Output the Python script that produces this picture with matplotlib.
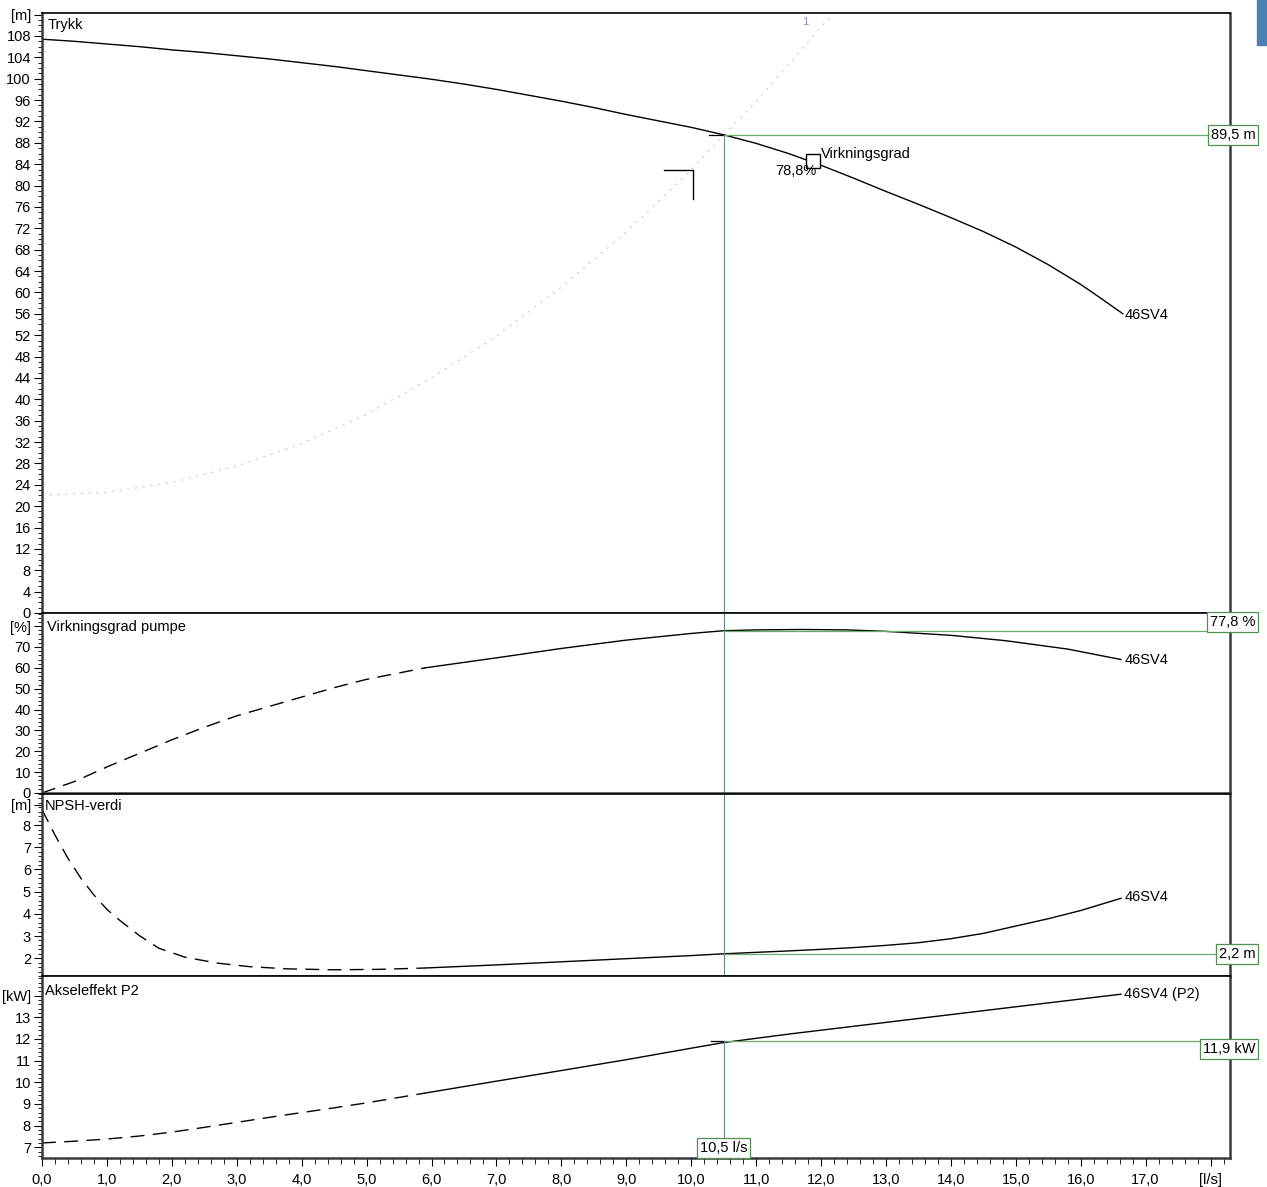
import numpy as np
import matplotlib.pyplot as plt
from matplotlib.ticker import MultipleLocator, FixedLocator
from matplotlib.patches import Rectangle
import matplotlib.transforms as mtransforms

plt.rcParams['font.family'] = ['Liberation Sans', 'DejaVu Sans']

# pumpekurve 46SV4, Q i l/s
q_head = [0, 0.5, 1, 1.5, 2, 2.5, 3, 3.5, 4, 4.5, 5, 5.5, 6, 6.5, 7, 7.5, 8, 8.5, 9, 9.5,
          10, 10.5, 11, 11.5, 12, 12.5, 13, 13.5, 14, 14.5, 15, 15.5, 16, 16.3, 16.65]
head = [107.4, 107.0, 106.5, 106.0, 105.4, 104.9, 104.3, 103.7, 103.0, 102.3, 101.5, 100.7,
        99.9, 99.0, 98.0, 96.9, 95.8, 94.6, 93.3, 92.1, 90.9, 89.5, 87.9, 86.0, 83.8, 81.4,
        78.9, 76.5, 74.0, 71.4, 68.5, 65.2, 61.5, 59.0, 56.0]

# anleggskurve (svak, stiplet)
q_sys = [0, 1, 2, 3, 4, 5, 6, 7, 8, 9, 10, 10.5, 11, 12, 12.2]
sys_head = [22.0, 22.6, 24.4, 27.5, 31.7, 37.2, 44.0, 51.8, 61.0, 71.3, 82.9, 89.5, 95.7, 109.7, 112.3]

q_eff = [0, 0.5, 1, 1.5, 2, 2.5, 3, 3.5, 4, 4.5, 5, 5.9, 7, 8, 9, 10, 10.5, 11, 11.7, 12.4,
         13, 14, 14.85, 15.8, 16.62]
eff = [0, 5.5, 12.5, 19, 25.5, 31.5, 37, 41.5, 46, 50.5, 54.5, 60, 64.8, 69.3, 73.3, 76.5,
       77.8, 78.2, 78.4, 78.2, 77.5, 75.6, 73.0, 69.0, 64.0]

q_npsh = [0, 0.2, 0.4, 0.6, 0.8, 1.0, 1.2, 1.5, 1.8, 2.2, 2.7, 3.2, 3.8, 4.5, 5.2, 5.9, 7, 8,
          9, 10, 10.5, 11.5, 12, 12.5, 13, 13.5, 14, 14.5, 15, 15.5, 16, 16.62]
npsh = [8.7, 7.55, 6.5, 5.6, 4.85, 4.2, 3.7, 3.02, 2.45, 2.05, 1.78, 1.62, 1.52, 1.48, 1.5,
        1.56, 1.7, 1.84, 1.98, 2.12, 2.2, 2.33, 2.4, 2.48, 2.58, 2.7, 2.88, 3.12, 3.45, 3.78,
        4.15, 4.7]

q_p2 = [0, 0.5, 1, 1.5, 2, 2.5, 3, 3.5, 4, 4.5, 5, 5.9, 7, 8, 9, 10, 10.5, 11.5, 12.5, 13.5,
        14.5, 15.5, 16.62]
p2 = [7.2, 7.28, 7.38, 7.52, 7.7, 7.92, 8.15, 8.38, 8.6, 8.82, 9.05, 9.5, 10.05, 10.54,
      11.04, 11.57, 11.83, 12.22, 12.58, 12.94, 13.3, 13.66, 14.06]

# driftspunkt
q_duty = 10.5
duty_head = 89.5
duty_eff = 77.8
duty_npsh = 2.2
duty_p2 = 11.9
best_eff_q, best_eff_h = 11.88, 84.6
dash_end = 5.9

x_major = list(range(0, 19))
x_labels = ['%d,0' % v for v in range(0, 18)] + ['[l/s]']

green = '#6aaa6a'
boxgreen = '#4f8f4f'
vcol = '#6b8b8b'
fs = 10.5

fig = plt.figure(figsize=(12.67, 11.87), dpi=100)

L, W = 42 / 1267, 1188 / 1267
H = 1187
ax1 = fig.add_axes([L, 1 - 613 / H, W, 600 / H])
ax2 = fig.add_axes([L, 1 - 793 / H, W, 180 / H])
ax3 = fig.add_axes([L, 1 - 976 / H, W, 182 / H])
ax4 = fig.add_axes([L, 1 - 1157.7 / H, W, 181.7 / H])
axes = [ax1, ax2, ax3, ax4]

for ax in axes:
    ax.set_xlim(0, 18.3)
    for s in ['left', 'bottom', 'right']:
        ax.spines[s].set_linewidth(1.8)
        ax.spines[s].set_color('#3a3a3a')
    ax.spines['top'].set_linewidth(1.2)
    ax.tick_params(axis='y', direction='out', length=6, width=0.8, pad=2, labelsize=fs)
    ax.tick_params(axis='y', which='minor', direction='out', length=3, width=0.6)
    ax.tick_params(axis='x', which='both', bottom=False, labelbottom=False)


def split(q, v):
    q = np.array(q)
    v = np.array(v)
    d = q <= dash_end
    s = q >= dash_end
    return (q[d], v[d]), (q[s], v[s])


# --- Trykk ---
ax1.set_ylim(0, 112.3)
ax1.yaxis.set_major_locator(FixedLocator(list(range(0, 109, 4)) + [112]))
ax1.set_yticklabels([str(v) for v in range(0, 109, 4)] + ['[m]'])
ax1.yaxis.set_minor_locator(MultipleLocator(1))
ax1.plot(q_sys, sys_head, color='#c6c9e0', lw=0.8, dashes=(2, 5))
ax1.plot(q_head, head, color='black', lw=1.0)
ax1.text(0.08, 110.0, 'Trykk', fontsize=fs, va='center')
ax1.text(11.75, 110.6, '1', fontsize=8, color='#8a8ae0', ha='center', va='center')
ax1.plot([9.58, 10.03, 10.03], [82.9, 82.9, 77.5], color='black', lw=1.0)
ax1.plot([q_duty - 0.22, q_duty], [duty_head, duty_head], color='black', lw=0.9)
ax1.plot([q_duty, 18.3], [duty_head, duty_head], color=green, lw=0.9)
ax1.plot([q_duty, q_duty], [0, duty_head], color=vcol, lw=0.8)
ax1.plot([best_eff_q], [best_eff_h], marker='s', ms=10, mfc='white', mec='black', mew=1.0)
ax1.text(best_eff_q + 0.12, best_eff_h + 1.3, 'Virkningsgrad', fontsize=fs, va='center')
ax1.text(best_eff_q + 0.05, best_eff_h - 1.8, '78,8%', fontsize=fs, ha='right', va='center')
ax1.text(16.67, 55.7, '46SV4', fontsize=fs, va='center')

# --- Virkningsgrad ---
ax2.set_ylim(0, 86.3)
ax2.yaxis.set_major_locator(FixedLocator(list(range(0, 71, 10)) + [80]))
ax2.set_yticklabels([str(v) for v in range(0, 71, 10)] + ['[%]'])
ax2.yaxis.set_minor_locator(MultipleLocator(2))
(dq, dv), (sq, sv) = split(q_eff, eff)
ax2.plot(dq, dv, color='black', lw=1.0, dashes=(10, 6))
ax2.plot(sq, sv, color='black', lw=1.0)
ax2.text(0.08, 79.5, 'Virkningsgrad pumpe', fontsize=fs, va='center')
ax2.plot([q_duty, 18.0], [duty_eff, duty_eff], color=green, lw=0.9)
ax2.plot([q_duty, q_duty], [0, 86.3], color=vcol, lw=0.8)
ax2.text(16.67, 63.6, '46SV4', fontsize=fs, va='center')

# --- NPSH ---
ax3.set_ylim(1.2, 9.4)
ax3.yaxis.set_major_locator(FixedLocator(list(range(2, 9)) + [8.92]))
ax3.set_yticklabels([str(v) for v in range(2, 9)] + ['[m]'])
ax3.yaxis.set_minor_locator(MultipleLocator(0.2))
(dq, dv), (sq, sv) = split(q_npsh, npsh)
ax3.plot(dq, dv, color='black', lw=1.0, dashes=(10, 6))
ax3.plot(sq, sv, color='black', lw=1.0)
ax3.text(0.05, 8.85, 'NPSH-verdi', fontsize=fs, va='center')
ax3.plot([q_duty, 18.3], [duty_npsh, duty_npsh], color=green, lw=0.9)
ax3.plot([q_duty, q_duty], [1.2, 9.4], color=vcol, lw=0.8)
ax3.text(16.67, 4.75, '46SV4', fontsize=fs, va='center')

# --- Akseleffekt ---
ax4.set_ylim(6.52, 14.9)
ax4.yaxis.set_major_locator(FixedLocator(list(range(7, 14)) + [14]))
ax4.set_yticklabels([str(v) for v in range(7, 14)] + ['[kW]'])
ax4.yaxis.set_minor_locator(MultipleLocator(0.2))
(dq, dv), (sq, sv) = split(q_p2, p2)
ax4.plot(dq, dv, color='black', lw=1.0, dashes=(10, 6))
ax4.plot(sq, sv, color='black', lw=1.0)
ax4.text(0.05, 14.2, 'Akseleffekt P2', fontsize=fs, va='center')
ax4.plot([q_duty - 0.2, q_duty], [duty_p2, duty_p2], color='black', lw=0.9)
ax4.plot([q_duty, 18.3], [duty_p2, duty_p2], color=green, lw=0.9)
ax4.plot([q_duty, q_duty], [6.52, duty_p2], color=vcol, lw=0.8)
ax4.text(16.67, 14.06, '46SV4 (P2)', fontsize=fs, va='center')

ax4.tick_params(axis='x', which='both', bottom=True, labelbottom=True, direction='out')
ax4.tick_params(axis='x', which='major', length=6, width=0.8, pad=5, labelsize=fs)
ax4.tick_params(axis='x', which='minor', length=4, width=0.6)
ax4.xaxis.set_major_locator(FixedLocator(x_major))
ax4.set_xticklabels(x_labels)
ax4.xaxis.set_minor_locator(MultipleLocator(0.2))

# verdibokser
box = dict(boxstyle='square,pad=0.2', fc='white', ec=boxgreen, lw=0.9)
for ax, y, txt, va in [(ax1, duty_head, '89,5 m', 'center'),
                       (ax2, duty_eff + 0.8, '77,8 %', 'bottom'),
                       (ax3, duty_npsh, '2,2 m', 'center'),
                       (ax4, duty_p2 - 0.05, '11,9 kW', 'top')]:
    tr = mtransforms.blended_transform_factory(ax.transAxes, ax.transData)
    ax.text(1.0215, y, txt, transform=tr, ha='right', va=va, fontsize=fs,
            bbox=box, clip_on=False, zorder=5)

trb = mtransforms.blended_transform_factory(ax4.transData, ax4.transAxes)
ax4.text(q_duty, 0.015, '10,5 l/s', transform=trb, ha='center', va='bottom',
         fontsize=fs, bbox=box, zorder=5)

# blå fane oppe til høyre
fig.patches.append(Rectangle((1257 / 1267, 1 - 45 / H), 10 / 1267, 45 / H,
                             transform=fig.transFigure, color='#4a82b4'))

fig.savefig('out.png', dpi=100)
